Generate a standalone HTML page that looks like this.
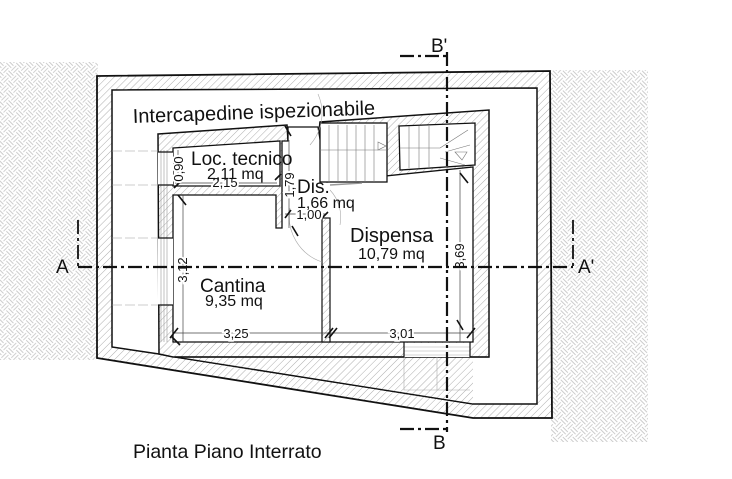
<!DOCTYPE html>
<html><head><meta charset="utf-8"><style>
html,body{margin:0;padding:0;background:#fff}
svg{display:block}
text{font-family:"Liberation Sans",sans-serif;fill:#111}
</style></head><body>
<svg width="732" height="479" viewBox="0 0 732 479" xmlns="http://www.w3.org/2000/svg">
<defs>
<pattern id="h" width="5" height="5" patternUnits="userSpaceOnUse" patternTransform="rotate(45)">
<rect width="5" height="5" fill="#fff"/><line x1="0" y1="0" x2="0" y2="5" stroke="#8a8a8a" stroke-width="0.7"/>
</pattern>
<pattern id="e" width="14" height="14" patternUnits="userSpaceOnUse" patternTransform="rotate(45)">
<rect width="14" height="14" fill="#fff"/>
<path d="M0 2H7M0 5H7M9 0V7M12 0V7M7 9H14M7 12H14M2 7V14M5 7V14" stroke="#cccccc" stroke-width="0.9"/>
</pattern>
</defs>
<rect x="0" y="62" width="98" height="298" fill="url(#e)"/>
<rect x="551" y="70" width="97" height="372" fill="url(#e)"/>
<polygon points="97,76 550,71 552,418 473,418 97,358" fill="url(#h)" stroke="#111" stroke-width="1.8"/>
<polygon points="112,90 537,88 537,404 473,404 175,357 159,354 112,347" fill="#fff" stroke="#111" stroke-width="1.5"/>
<polygon points="175,357 473,357 473,404" fill="url(#h)"/>
<polygon points="158,134 287,125 288,141 318,141 320,122 489,110 489,357 173,357 159,354" fill="url(#h)" stroke="#111" stroke-width="1.5"/>
<polygon points="173,148 280,141 280,186 173,186" fill="#fff" stroke="#111" stroke-width="1.3"/>
<polygon points="173,195 276,195 276,228 282,228 282,141 288,141 288,127 318,127 327,182 473,167 473,342 173,342" fill="#fff" stroke="#111" stroke-width="1.3"/>
<rect x="322" y="218" width="8" height="124" fill="url(#h)" stroke="#111" stroke-width="1.2"/>
<rect x="320" y="123" width="67" height="59" fill="#fff" stroke="#111" stroke-width="1.3"/>
<polygon points="399,126 475,123 475,165 400,170" fill="#fff" stroke="#111" stroke-width="1.3"/>
<g stroke="#777" stroke-width="0.6">
<path d="M329 125V182M338 125V182M347 125V182M356 125V182M365 125V182M374 125V182M320 150H387"/>
<path d="M409 126V168M419 126V168M429 126V168M400 148H440M440 148L468 130M445 152L470 145M440 158L465 165"/>
<path d="M378 150L386 146L378 142Z" fill="#fff"/>
<path d="M455 152L462 160L467 152Z" fill="#fff"/>
</g>
<line x1="330" y1="185" x2="362" y2="183" stroke="#999" stroke-width="1.5"/>
<rect x="158" y="152" width="15" height="33" fill="#fff"/>
<rect x="158" y="238" width="15" height="67" fill="#fff"/>
<g stroke="#999" stroke-width="0.6" fill="none">
<path d="M161 150V342M164 150V342M167 150V342"/>
<path d="M112 151H158M112 185H158M112 238H158M112 305H158" stroke-dasharray="10 3"/>
</g>
<path d="M158 152H173M158 185H173M158 238H173M158 305H173" stroke="#111" stroke-width="1.2"/>
<rect x="404" y="343" width="66" height="14" fill="#fff"/>
<g stroke="#aaa" stroke-width="0.6" fill="none"><path d="M404 347H470M404 351H470M404 355H470M404 357V390H470M437 357V390"/></g>
<line x1="175" y1="357" x2="404" y2="357" stroke="#111" stroke-width="1.3"/>
<line x1="470" y1="357" x2="489" y2="357" stroke="#111" stroke-width="1.3"/>
<line x1="175" y1="357" x2="473" y2="404" stroke="#111" stroke-width="1.3"/>
<line x1="404" y1="342" x2="404" y2="357" stroke="#111" stroke-width="1.2"/>
<line x1="470" y1="342" x2="470" y2="357" stroke="#111" stroke-width="1.2"/>
<g stroke="#aaa" stroke-width="0.6" fill="none">
<path d="M318 94A48 48 0 0 1 310 145"/>
<path d="M290 208A48 48 0 0 0 322 262"/>
<path d="M330 190A40 40 0 0 1 340 225"/>
</g>
<g stroke="#444" stroke-width="0.7" fill="none">
<path d="M175 333H470"/>
<path d="M183 195V342M460 170V342M178 150V185M289 140V228M285 214H325M175 183H277"/>
</g>
<g stroke="#111" stroke-width="1.6">
<path d="M170 338L178 328M172 337L180 345M325 338L333 328M329 338L337 328M467 338L475 328M457 320L463 330"/>
<path d="M174 188L182 180M178 195L186 205M275 180L281 174M285 126L291 136M285 218L291 210M292 226L298 236M322 218L328 212M460 173L468 183"/>
</g>
<g font-size="13" fill="#222">
<text x="236" y="338" text-anchor="middle" style="paint-order:stroke" stroke="#fff" stroke-width="4">3,25</text>
<text x="402" y="338" text-anchor="middle" style="paint-order:stroke" stroke="#fff" stroke-width="4">3,01</text>
<text x="225" y="187" text-anchor="middle" style="paint-order:stroke" stroke="#fff" stroke-width="4">2,15</text>
<text x="309" y="219" text-anchor="middle" style="paint-order:stroke" stroke="#fff" stroke-width="4">1,00</text>
<text transform="translate(187,270) rotate(-90)" text-anchor="middle" style="paint-order:stroke" stroke="#fff" stroke-width="4">3,12</text>
<text transform="translate(464,256) rotate(-90)" text-anchor="middle" style="paint-order:stroke" stroke="#fff" stroke-width="4">3,69</text>
<text transform="translate(183,169) rotate(-90)" text-anchor="middle" style="paint-order:stroke" stroke="#fff" stroke-width="4">0,90</text>
<text transform="translate(294,185) rotate(-90)" text-anchor="middle" style="paint-order:stroke" stroke="#fff" stroke-width="4">1,79</text>
</g>
<g stroke="#111" stroke-width="2.2" fill="none" stroke-dasharray="14 4 3 4">
<path d="M78 267H573"/>
<path d="M447 52V432"/>
<path d="M400 56H447"/>
<path d="M400 429H447"/>
<path d="M78 220V266M573 220V266" stroke-width="1.8"/>
</g>
<text x="133" y="123" font-size="20" transform="rotate(-2 133 123)">Intercapedine ispezionabile</text>
<text x="191" y="165" font-size="19">Loc. tecnico</text>
<text x="207" y="179" font-size="16">2,11 mq</text>
<text x="297" y="193" font-size="19">Dis.</text>
<text x="297" y="208" font-size="16">1,66 mq</text>
<text x="350" y="242" font-size="20">Dispensa</text>
<text x="358" y="259" font-size="16">10,79 mq</text>
<text x="200" y="292" font-size="19">Cantina</text>
<text x="205" y="306" font-size="16">9,35 mq</text>
<text x="56" y="273" font-size="19">A</text>
<text x="578" y="273" font-size="19">A'</text>
<text x="431" y="52" font-size="19">B'</text>
<text x="433" y="449" font-size="19">B</text>
<text x="133" y="458" font-size="19.5">Pianta Piano Interrato</text>
</svg>
</body></html>
